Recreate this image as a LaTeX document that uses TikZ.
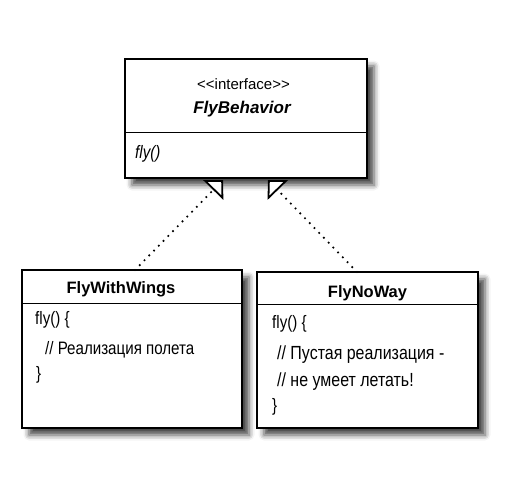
\documentclass[tikz,border=0pt]{standalone}
\usepackage{fontspec}
\setmainfont{Liberation Sans}
\newfontfamily\narrowsans{Liberation Sans}[FakeStretch=0.84]
\usetikzlibrary{arrows.meta,shadows.blur}
\tikzset{
  classbox/.style={draw=black, line width=1.3pt, fill=white, inner sep=0pt, outer sep=0pt, anchor=north west,
    blur shadow={shadow xshift=7pt, shadow yshift=-7pt, shadow blur radius=5.5pt, shadow opacity=72}},
  divider/.style={line width=1pt},
  txt/.style={inner sep=0pt, anchor=base west},
  ctxt/.style={inner sep=0pt, anchor=base},
  realize/.style={line width=2.4pt, dash pattern=on 0pt off 6.8pt, line cap=round,
    -{Triangle[open, fill=white, length=14pt, width=28pt, line width=1.8pt]}},
  bodyf/.style={font=\narrowsans\fontsize{19}{22}\selectfont},
  codef/.style={font=\narrowsans\fontsize{18}{21}\selectfont},
  headf/.style={font=\fontsize{16.5}{20}\selectfont\bfseries},
}
\begin{document}
\begin{tikzpicture}[x=1pt,y=-1pt]
\useasboundingbox (0,0) rectangle (514,484);
% boxes
\node[classbox, minimum width=242pt, minimum height=119pt] (fb) at (125,59) {};
\node[classbox, minimum width=220pt, minimum height=158pt] (fw) at (22,270) {};
\node[classbox, minimum width=221pt, minimum height=156pt] (fn) at (257,272) {};
% dividers
\draw[divider] (fb.west |- 0,133) -- (fb.east |- 0,133);
\draw[divider] (fw.west |- 0,303) -- (fw.east |- 0,303);
\draw[divider] (fn.west |- 0,304) -- (fn.east |- 0,304);
% top box texts
\node[ctxt, font=\fontsize{15}{18}\selectfont] (st) at (243.5,90) {<{}<interface>{}>};
\node[ctxt, font=\fontsize{17}{20}\selectfont\bfseries\itshape] (fbm0) at (242,114) {FlyBehavior};
\node[txt, font=\narrowsans\fontsize{18}{21}\selectfont\itshape] (fbm) at (135,159) {fly()};
% left box texts
\node[ctxt, headf] (fwn) at (121,293) {FlyWithWings};
\node[txt, codef] (fw1) at (35,324) {fly() \{};
\node[txt, codef] (fw2) at (45,354) {// Реализация полета};
\node[txt, codef] (fw3) at (36,379) {\}};
% right box texts
\node[ctxt, headf] (fnn) at (367.5,297) {FlyNoWay};
\node[txt, codef] (fn1) at (272,328) {fly() \{};
\node[txt, bodyf] (fn2) at (277,359) {// Пустая реализация -};
\node[txt, bodyf] (fn3) at (277,386) {// не умеет летать!};
\node[txt, codef] (fn4) at (272,411) {\}};
% connectors
\coordinate (tipL) at (223,180);
\coordinate (tipR) at (268,180);
\draw[realize] ([xshift=113pt]fw.north west) -- (tipL);
\draw[realize] ([xshift=100pt]fn.north west) -- (tipR);
\end{tikzpicture}
\end{document}
